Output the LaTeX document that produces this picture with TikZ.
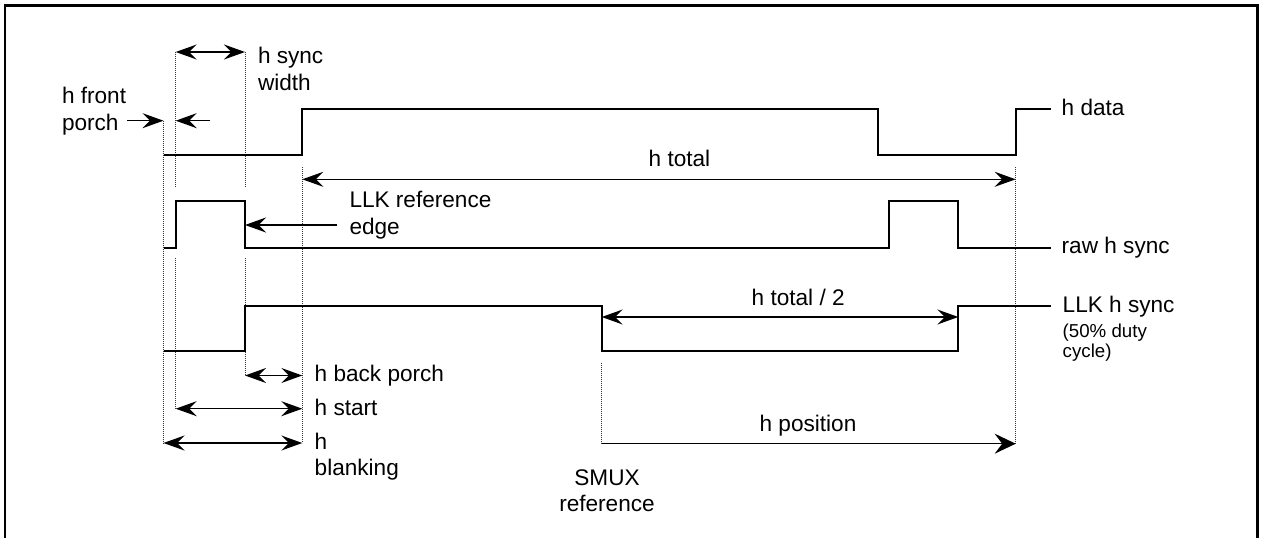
\documentclass[tikz,border=0pt]{standalone}
\usepackage{fontspec}
\setmainfont{Liberation Sans}
\usetikzlibrary{arrows.meta}
\begin{document}
\begin{tikzpicture}[x=1pt,y=-1pt,
  wave/.style={line width=2pt, line join=miter},
  guide/.style={line width=0.8pt, black!80, dash pattern=on 0.9pt off 1.1pt},
  tip/.tip={Stealth[length=21pt,width=15pt,inset=7.5pt]},
  bigtip/.tip={Stealth[length=21pt,width=20pt,inset=7.5pt]},
  dimboth/.style={line width=1.5pt, tip-tip},
  dimone/.style={line width=1.5pt, -tip},
  lbl/.style={inner sep=0pt, font=\fontsize{22.6}{26.5}\selectfont, align=left, anchor=base west},
  clbl/.style={inner sep=0pt, font=\fontsize{22.6}{26.5}\selectfont, align=center, anchor=base},
  slbl/.style={inner sep=0pt, font=\fontsize{18.7}{20}\selectfont, align=left, anchor=base west},
]
\useasboundingbox (0,0) rectangle (1262,538);
\draw[line width=2.8pt] (5,5.7) rectangle (1257.3,548);

% x positions
\def\xa{163.5}\def\xb{175.7}\def\xc{245}\def\xd{302.3}
\def\xs{601.7}\def\xe{1015.7}\def\xf{877.7}\def\xg{889.3}\def\xh{958.3}\def\xend{1050.7}

% guide coordinates
\coordinate (a1) at (\xa,120.7);  \coordinate (a2) at (\xa,443);
\coordinate (b1) at (\xb,52);     \coordinate (b2) at (\xb,187.7);
\coordinate (b3) at (\xb,258);    \coordinate (b4) at (\xb,408.7);
\coordinate (c1) at (\xc,52);     \coordinate (c2) at (\xc,187.7);
\coordinate (c3) at (\xc,258);    \coordinate (c4) at (\xc,375.5);
\coordinate (d1) at (\xd,167);    \coordinate (d2) at (\xd,443);
\coordinate (s1) at (\xs,362.7);  \coordinate (s2) at (\xs,443.7);
\coordinate (e1) at (\xe,167);    \coordinate (e2) at (\xe,443.7);

\draw[guide] (a1) -- (a2);
\draw[guide] (b1) -- (b2);
\draw[guide] (b3) -- (b4);
\draw[guide] (c1) -- (c2);
\draw[guide] (c3) -- (c4);
\draw[guide] (d1) -- (d2);
\draw[guide] (s1) -- (s2);
\draw[guide] (e1) -- (e2);

% waveforms
\draw[wave] (\xa,155.3) -- (\xd,155.3) -- (\xd,109.3) -- (\xf,109.3) -- (\xf,155.3)
  -- (\xe,155.3) -- (\xe,109.3) -- (\xend,109.3);
\draw[wave] (\xa,247.7) -- (\xb,247.7) -- (\xb,201.3) -- (\xc,201.3) -- (\xc,247.7)
  -- (\xg,247.7) -- (\xg,201.3) -- (\xh,201.3) -- (\xh,247.7) -- (\xend,247.7);
\draw[wave] (\xa,351.3) -- (\xc,351.3) -- (\xc,305.7) -- (\xs,305.7) -- (\xs,351.3)
  -- (\xh,351.3) -- (\xh,305.7) -- (\xend,305.7);

% dimension arrows
\coordinate (fp1) at (127.3,120.7);
\coordinate (fp2) at (210,120.7);
\coordinate (fpx) at (\xb,120.7);
\draw[dimone] (fp1) -- (a1);
\draw[dimone] (fp2) -- (fpx);
\draw[dimboth] (b1) -- (c1);
\coordinate (ht1) at (\xd,179.3); \coordinate (ht2) at (\xe,179.3);
\draw[dimboth] (ht1) -- (ht2);
\coordinate (le1) at (337,225); \coordinate (le2) at (\xc,225);
\draw[dimone] (le1) -- (le2);
\coordinate (hh1) at (\xs,317); \coordinate (hh2) at (\xh,317);
\draw[dimboth] (hh1) -- (hh2);
\coordinate (bp2) at (\xd,375.5);
\draw[dimboth] (c4) -- (bp2);
\coordinate (st2) at (\xd,408.7);
\draw[dimboth] (b4) -- (st2);
\draw[dimboth] (a2) -- (d2);
\draw[line width=1.5pt, -bigtip] (s2) -- (e2);

% labels (multi-line nodes: y is the baseline of the last line)
\node[lbl] (tfp) at (61.8,130.3) {h front\\porch};
\node[lbl] (tsw) at (257.8,90) {h sync\\width};
\node[lbl] (tllk) at (349.3,234) {LLK reference\\edge};
\node[lbl] (tht) at (648.5,166.7) {h total};
\node[lbl] (thd) at (1061.5,115) {h data};
\node[lbl] (trs) at (1061.5,253.5) {raw h sync};
\node[lbl] (tls) at (1062.5,312.7) {LLK h sync};
\node[slbl] (tduty) at (1062.5,357.3) {(50\% duty\\cycle)};
\node[lbl] (thh) at (751.5,305) {h total / 2};
\node[lbl] (tbp) at (314.5,381) {h back porch};
\node[lbl] (tst) at (314.5,415) {h start};
\node[lbl] (tbl) at (314.5,475.7) {h\\blanking};
\node[clbl] (tpos) at (808,431.7) {h position};
\node[clbl] (tsmux) at (607,511.7) {SMUX\\reference};
\end{tikzpicture}
\end{document}
